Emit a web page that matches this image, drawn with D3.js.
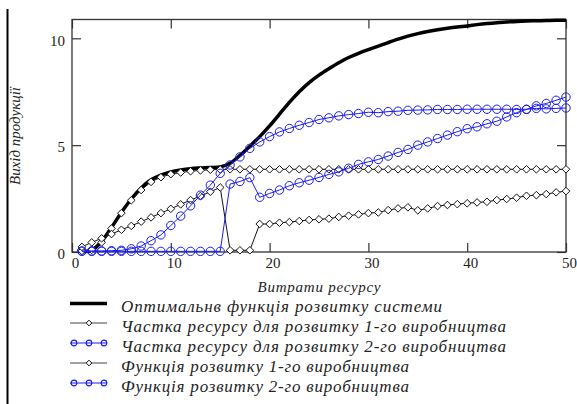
<!DOCTYPE html>
<html>
<head>
<meta charset="utf-8">
<script src="https://cdn.jsdelivr.net/npm/d3@7"></script>
<style>
body { margin: 0; background: #fff; }
svg { display: block; }
svg text { font-family: "Liberation Serif", "Times New Roman", Times, serif; }
</style>
</head>
<body>
<script>
/*** Data ***/
resource = [1,2,3,4,5,6,7,8,9,10,11,12,13,14,15,16,17,18,19,20,21,22,23,24,25,
            26,27,28,29,30,31,32,33,34,35,36,37,38,39,40,41,42,43,44,45,46,47,48,49,50]

// thick black curve
optimal = [0.03,0.08,0.5,1.15,1.85,2.48,3.0,3.38,3.6,3.75,3.84,3.9,3.93,3.95,3.98,
           4.15,4.52,4.95,5.4,5.9,6.45,7.0,7.5,7.93,8.28,8.58,8.86,9.1,9.3,9.47,
           9.63,9.8,9.96,10.1,10.22,10.32,10.4,10.47,10.53,10.58,10.64,10.69,10.73,10.76,10.79,
           10.81,10.82,10.83,10.84,10.84]

share1 = [0.24,0.45,0.64,0.84,1.04,1.22,1.42,1.62,1.82,2.02,2.23,2.43,2.62,2.82,3.02,
          0.08,0.08,0.08,1.31,1.31,1.37,1.4,1.45,1.5,1.53,1.56,1.64,1.7,1.76,1.82,
          1.85,1.96,2.04,2.09,1.95,2.04,2.15,2.2,2.24,2.28,2.32,2.35,2.43,2.48,2.54,
          2.63,2.66,2.71,2.79,2.85]

share2 = [0.03,0.03,0.03,0.03,0.03,0.03,0.03,0.03,0.03,0.03,0.03,0.03,0.03,0.03,0.03,
          3.18,3.3,3.48,2.56,2.74,2.9,3.1,3.24,3.36,3.49,3.63,3.75,3.92,4.1,4.22,
          4.33,4.49,4.66,4.8,5.0,5.15,5.31,5.47,5.63,5.77,5.86,6.0,6.12,6.32,6.52,
          6.67,6.84,6.95,7.1,7.25]

func1 = [0.05,0.1,0.45,1.1,1.82,2.42,2.9,3.28,3.5,3.64,3.72,3.78,3.82,3.85,3.86,
         3.87,3.87,3.87,3.87,3.87,3.87,3.87,3.87,3.87,3.87,3.87,3.87,3.87,3.87,3.87,
         3.87,3.87,3.87,3.87,3.87,3.87,3.87,3.87,3.87,3.87,3.87,3.87,3.87,3.87,3.87,
         3.87,3.87,3.87,3.87,3.87]

func2 = [0.05,0.05,0.05,0.06,0.08,0.15,0.28,0.53,0.8,1.24,1.68,2.16,2.66,3.13,3.68,
         4.07,4.45,4.85,5.15,5.4,5.62,5.78,5.93,6.06,6.2,6.28,6.37,6.43,6.48,6.54,
         6.52,6.57,6.59,6.63,6.64,6.65,6.67,6.67,6.67,6.68,6.68,6.68,6.68,6.68,6.67,
         6.68,6.72,6.7,6.72,6.74]

xTicks = [0, 10, 20, 30, 40, 50]
yTicks = [0, 5, 10]

xTitle = 'Витрати ресурсу'
yTitle = 'Вихід продукції'

legendLabels = [
  'Оптимальнв функція розвитку системи',
  'Частка ресурсу для розвитку 1-го виробництва',
  'Частка ресурсу для розвитку 2-го виробництва',
  'Функція розвитку 1-го виробництва',
  'Функція розвитку 2-го виробництва'
]

/*** Chart ***/
w = 577
h = 404
blue = '#1c1cf0'
serif = '"Liberation Serif", "Times New Roman", Times, serif'

svg = d3.select('body')
        .append('svg')
        .attr('width', w)
        .attr('height', h)

xScale = d3.scaleLinear()
           .domain([0, 50])
           .range([72, 566])

yScale = d3.scaleLinear()
           .domain([0, 10.88])
           .range([252, 19.5])

function pairs(values){
  return resource.map((r, i) => [r, values[i]])
}

// left page rule
svg.append('line')
   .attr('x1', 7.5).attr('x2', 7.5)
   .attr('y1', 9).attr('y2', h)
   .attr('stroke', '#000')
   .attr('stroke-width', 2)

// Axes (ticks inward)
xAxis = d3.axisBottom(xScale).tickValues(xTicks).tickSizeInner(-9).tickSizeOuter(0).tickPadding(5.5)
gx = svg.append('g')
   .attr('transform', `translate(0, ${yScale(0)})`)
   .call(xAxis)
gx.selectAll('text').attr('dx', 3)

svg.append('g')
   .attr('transform', `translate(0, ${yScale.range()[1]})`)
   .call(d3.axisTop(xScale).tickValues(xTicks).tickSizeInner(-9).tickSizeOuter(0).tickFormat(''))

gy = svg.append('g')
   .attr('transform', `translate(${xScale(0)}, 0)`)
   .call(d3.axisLeft(yScale).tickValues(yTicks).tickSizeInner(-9).tickSizeOuter(0).tickPadding(7))
gy.selectAll('text').attr('dy', '0.45em')

svg.append('g')
   .attr('transform', `translate(${xScale(50)}, 0)`)
   .call(d3.axisRight(yScale).tickValues(yTicks).tickSizeInner(-9).tickSizeOuter(0).tickFormat(''))

svg.selectAll('.domain').remove()
svg.selectAll('g').attr('font-family', serif)
svg.selectAll('.tick line').attr('stroke', '#333').attr('stroke-width', 1.2)
svg.selectAll('.tick text')
   .attr('fill', '#222')
   .attr('font-size', 15)

// frame
svg.append('rect')
   .attr('x', xScale(0))
   .attr('y', yScale.range()[1])
   .attr('width', xScale(50) - xScale(0))
   .attr('height', yScale(0) - yScale.range()[1])
   .attr('fill', 'none')
   .attr('stroke', '#333')
   .attr('stroke-width', 1.3)

// titles
svg.append('text')
   .attr('x', (xScale(0) + xScale(50)) / 2)
   .attr('y', 292)
   .attr('text-anchor', 'middle')
   .attr('textLength', 123)
   .attr('lengthAdjust', 'spacing')
   .attr('font-size', 15)
   .attr('font-style', 'italic')
   .attr('fill', '#222')
   .text(xTitle)

svg.append('text')
   .attr('transform', 'translate(20, 136) rotate(-90)')
   .attr('text-anchor', 'middle')
   .attr('textLength', 98)
   .attr('lengthAdjust', 'spacing')
   .attr('font-size', 15)
   .attr('font-style', 'italic')
   .attr('fill', '#222')
   .text(yTitle)

// Lines
line = d3.line()
         .x(d => xScale(d[0]))
         .y(d => yScale(d[1]))

diamond = 'M0,-3.8L3.8,0L0,3.8L-3.8,0Z'

function drawDiamonds(values){
  let data = pairs(values)
  svg.append('path')
     .datum(data)
     .attr('d', line)
     .attr('fill', 'none')
     .attr('stroke', '#111')
     .attr('stroke-width', 1)
  svg.append('g')
     .selectAll('path')
     .data(data)
     .enter()
       .append('path')
       .attr('d', diamond)
       .attr('transform', d => `translate(${xScale(d[0])}, ${yScale(d[1])})`)
       .attr('fill', '#fff')
       .attr('stroke', '#111')
       .attr('stroke-width', 1)
}

function drawCircles(values){
  let data = pairs(values)
  svg.append('path')
     .datum(data)
     .attr('d', line)
     .attr('fill', 'none')
     .attr('stroke', blue)
     .attr('stroke-width', 1)
  svg.append('g')
     .selectAll('circle')
     .data(data)
     .enter()
       .append('circle')
       .attr('cx', d => xScale(d[0]))
       .attr('cy', d => yScale(d[1]))
       .attr('r', 4.2)
       .attr('fill', 'none')
       .attr('stroke', blue)
       .attr('stroke-width', 1)
}

svg.append('path')
   .datum(pairs(optimal))
   .attr('d', d3.line().x(d => xScale(d[0])).y(d => yScale(d[1])).curve(d3.curveCatmullRom))
   .attr('fill', 'none')
   .attr('stroke', '#000')
   .attr('stroke-width', 3.5)

drawDiamonds(func1)
drawDiamonds(share1)
drawCircles(func2)
drawCircles(share2)

// Legend
legendY = [303.5, 323, 343, 363, 383]
legendKind = ['thick', 'diamond', 'circle', 'diamond', 'circle']
legendLen = [321, 385, 385, 288, 288]

legendLabels.forEach((label, i) => {
  let g = svg.append('g').attr('transform', `translate(0, ${legendY[i]})`)
  let kind = legendKind[i]
  g.append('line')
   .attr('x1', 70).attr('x2', 107)
   .attr('stroke', kind == 'thick' ? '#000' : (kind == 'circle' ? blue : '#444'))
   .attr('stroke-width', kind == 'thick' ? 3.5 : 1)
  if(kind == 'diamond')
    g.append('path')
     .attr('d', 'M0,-2.8L2.8,0L0,2.8L-2.8,0Z')
     .attr('transform', 'translate(89, 0)')
     .attr('fill', '#fff')
     .attr('stroke', '#111')
  else if(kind == 'circle')
    g.selectAll('circle')
     .data([74, 89, 104])
     .enter()
       .append('circle')
       .attr('cx', d => d)
       .attr('r', 2.8)
       .attr('fill', 'none')
       .attr('stroke', blue)
       .attr('stroke-width', 1.2)
  g.append('text')
   .attr('x', 121)
   .attr('y', 8.5)
   .attr('textLength', legendLen[i])
   .attr('lengthAdjust', 'spacing')
   .attr('font-size', 17)
   .attr('font-style', 'italic')
   .attr('fill', '#222')
   .text(label)
})
</script>
</body>
</html>
